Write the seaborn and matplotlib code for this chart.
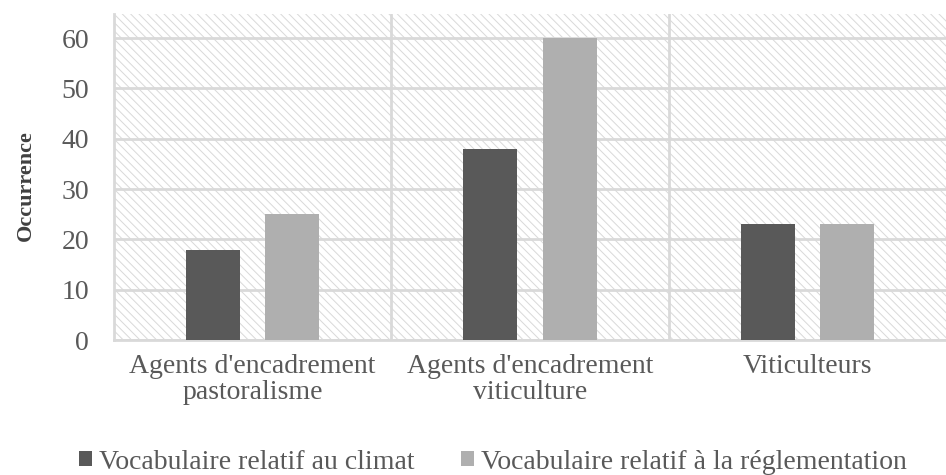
import pandas as pd
import matplotlib.pyplot as plt
import seaborn as sns
from matplotlib.patches import Rectangle

# data
categories = ["Agents d'encadrement\npastoralisme",
              "Agents d'encadrement\nviticulture",
              "Viticulteurs"]
series = ["Vocabulaire relatif au climat",
          "Vocabulaire relatif à la réglementation"]
climat = [18, 38, 23]
reglementation = [25, 60, 23]
yticks = [0, 10, 20, 30, 40, 50, 60]

df = pd.DataFrame({
    "categorie": categories * 2,
    "serie": [series[0]] * 3 + [series[1]] * 3,
    "occurrence": climat + reglementation,
})

sns.set_theme(style="white")
plt.rcParams["font.family"] = ["Liberation Serif", "DejaVu Serif"]
plt.rcParams["hatch.linewidth"] = 0.7

fig = plt.figure(figsize=(9.46, 4.75), dpi=100)
ax = fig.add_axes([0.1205, 0.284, 0.8795, 0.6865])

# hatched plot background
bg = Rectangle((0, 0), 1, 1, transform=ax.transAxes, facecolor="white",
               edgecolor="#d9d9d9", linewidth=0, hatch="\\" * 4, zorder=0)
ax.add_patch(bg)

sns.barplot(data=df, x="categorie", y="occurrence", hue="serie",
            palette=["#595959", "#afafaf"], width=0.573, gap=0.32,
            saturation=1, linewidth=0, ax=ax, zorder=3)

ax.set_ylim(0, 64.8)
ax.set_xlim(-0.5, 2.5)
ax.set_yticks(yticks)
ax.set_xticks([0.5, 1.5], minor=True)
ax.grid(axis="y", which="major", color="#d9d9d9", linewidth=2, zorder=1)
ax.grid(axis="x", which="minor", color="#d9d9d9", linewidth=2, zorder=1)
ax.set_axisbelow(True)
for s in ["top", "right"]:
    ax.spines[s].set_visible(False)
for s in ["left", "bottom"]:
    ax.spines[s].set_color("#d9d9d9")
    ax.spines[s].set_linewidth(2)

ax.tick_params(axis="y", length=0, pad=18, labelsize=20, labelcolor="#595959")
ax.tick_params(axis="x", which="both", length=0, pad=10, labelsize=20,
               labelcolor="#595959")
for t in ax.get_xticklabels():
    t.set_linespacing(1.05)
ax.set_xlabel("")
ax.set_ylabel("Occurrence", fontsize=16, fontweight="bold", color="#404040")
ax.yaxis.set_label_coords(-0.094, 0.475)

handles, labels = ax.get_legend_handles_labels()
ax.legend(handles, labels, loc="center", bbox_to_anchor=(0.521, 0.027),
          bbox_transform=fig.transFigure, ncol=2, frameon=False,
          fontsize=20, labelcolor="#595959", handlelength=0.47,
          handleheight=0.47, handletextpad=0.25, columnspacing=1.7,
          borderpad=0)

fig.savefig("out.png", dpi=100)
